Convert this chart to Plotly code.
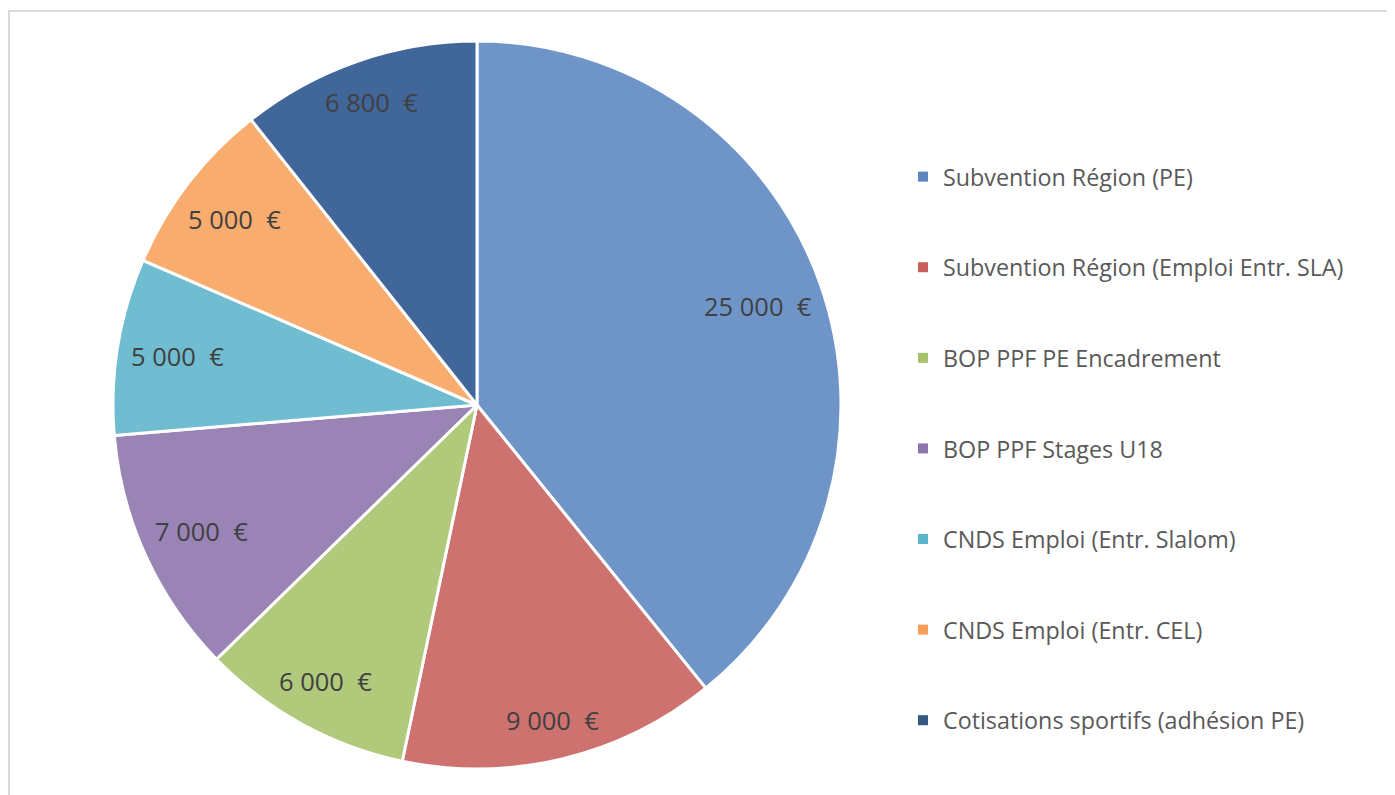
"""Pie chart of funding sources (Excel-style) with plotly."""

import math

import plotly.graph_objects as go

# Data
categories = [
    "Subvention Région (PE)",
    "Subvention Région (Emploi Entr. SLA)",
    "BOP PPF PE Encadrement",
    "BOP PPF Stages U18",
    "CNDS Emploi (Entr. Slalom)",
    "CNDS Emploi (Entr. CEL)",
    "Cotisations sportifs (adhésion PE)",
]
amounts = [25000, 9000, 6000, 7000, 5000, 5000, 6800]

# Mid-tones of the Office gradient fills
slice_colors = ["#6f95c8", "#cd726f", "#b0c97b", "#9a84b6", "#70bdd2", "#f8ac6d", "#40669a"]
legend_colors = ["#5b86c0", "#c9605c", "#a6c26a", "#8d74ab", "#5db4cc", "#f79f58", "#335983"]

W, H = 1395, 795
FONT = "Open Sans, Lato, sans-serif"
LABEL_SIZE = 25.5

# pie geometry in pixels (paper coordinates, origin top-left)
CX, CY, R = 469, 397, 364


def euro(v):
    return f"{v:,}".replace(",", "\u00a0") + "\u00a0\u00a0€"


def label_position(mid_deg, text):
    """Push a horizontal label outward until its far corner nears the rim."""
    w = len(text) * 0.455 * LABEL_SIZE
    h = 1.1 * LABEL_SIZE
    ux, uy = math.sin(math.radians(mid_deg)), -math.cos(math.radians(mid_deg))
    target = R - 13
    r = 0.0
    while r < R:
        x, y = ux * r, uy * r
        corner = math.hypot(abs(x) + w / 2, abs(y) + h / 2)
        if corner >= target:
            break
        r += 1
    return CX + ux * r, CY + uy * r


fig = go.Figure()

fig.add_trace(
    go.Pie(
        labels=categories,
        values=amounts,
        sort=False,
        direction="clockwise",
        rotation=0,
        marker={"colors": slice_colors, "line": {"color": "white", "width": 3}},
        textinfo="none",
        domain={"x": [(CX - R) / W, (CX + R) / W], "y": [1 - (CY + R) / H, 1 - (CY - R) / H]},
        showlegend=False,
        hoverinfo="label+value",
    )
)

# Data labels, placed Excel "best fit" style
total = sum(amounts)
start = 0.0
for v in amounts:
    sweep = v / total * 360
    text = euro(v)
    px, py = label_position(start + sweep / 2, text)
    fig.add_annotation(
        x=px / W,
        y=1 - py / H,
        xref="paper",
        yref="paper",
        xanchor="center",
        yanchor="middle",
        text=text,
        showarrow=False,
        font={"family": FONT, "size": LABEL_SIZE, "color": "#404040"},
    )
    start += sweep

# Legend entries as dummy traces, one group each so the gaps can be widened
for name, color in zip(categories, legend_colors):
    fig.add_trace(
        go.Scatter(
            x=[None],
            y=[None],
            mode="markers",
            name=name,
            legendgroup=name,
            marker={"symbol": "square", "size": 10, "color": color},
        )
    )

fig.add_shape(
    type="rect",
    xref="paper",
    yref="paper",
    x0=1 / W,
    y0=-0.05,
    x1=1.05,
    y1=1 - 3 / H,
    line={"color": "#d9d9d9", "width": 2},
    fillcolor="rgba(0,0,0,0)",
    layer="below",
)

fig.update_layout(
    width=W,
    height=H,
    margin={"l": 0, "r": 0, "t": 0, "b": 0},
    paper_bgcolor="white",
    plot_bgcolor="white",
    xaxis={"visible": False},
    yaxis={"visible": False},
    legend={
        "x": 895 / W,
        "y": 1 - 147 / H,
        "xanchor": "left",
        "yanchor": "top",
        "font": {"family": FONT, "size": 23.3, "color": "#595959"},
        "tracegroupgap": 57.3,
        "bgcolor": "rgba(0,0,0,0)",
    },
)

fig.write_html("out.html")
